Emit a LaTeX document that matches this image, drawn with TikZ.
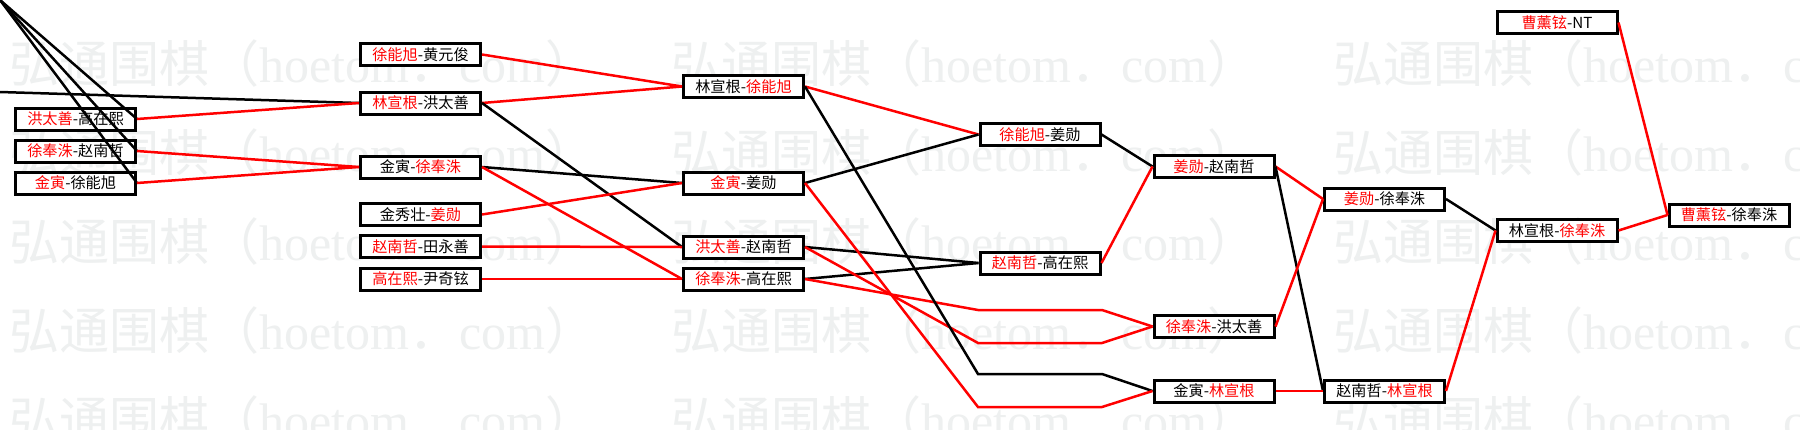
\documentclass[tikz,border=0pt]{standalone}
\usepackage{fontspec}
\newfontfamily\cjk{Noto Sans CJK SC}
\newfontfamily\lser{Liberation Serif}
\definecolor{wm}{RGB}{238,240,240}
\definecolor{rd}{RGB}{255,0,0}
\newcommand\rn[1]{\textcolor{rd}{#1}}
\newcommand\wmtext{弘通围棋（{\lser hoetom}．{\lser com}）}
\begin{document}
\begin{tikzpicture}[x=0.5pt,y=-0.5pt,
  box/.style={draw=black,line width=1.5pt,fill=white,minimum width=60pt,minimum height=11pt,inner sep=0pt,font=\cjk\fontsize{7.6}{8}\selectfont},
  wmark/.style={anchor=west,text=wm,inner sep=0pt,font=\cjk\fontsize{25}{26}\selectfont},
  rl/.style={draw=rd,line width=1.25pt},
  bl/.style={draw=black,line width=1.25pt}]
\fill[white] (0,0) rectangle (1800,429);
\useasboundingbox (0,0) rectangle (1800,429);
\clip (0,0) rectangle (1800,429);
% watermark
\foreach \yy in {63,152,241,330,419}{
  \foreach \xx in {9,671,1333}{
    \node[wmark] (w\xx-\yy) at (\xx,\yy) {\wmtext};
  }
}
% column 1
\node[box] (a1) at (75.5,119) {\rn{洪太善}-高在熙};
\node[box] (a2) at (75.5,151) {\rn{徐奉洙}-赵南哲};
\node[box] (a3) at (75.5,183) {\rn{金寅}-徐能旭};
% column 2
\node[box] (b1) at (420.5,54.5) {\rn{徐能旭}-黄元俊};
\node[box] (b2) at (420.5,103) {\rn{林宣根}-洪太善};
\node[box] (b3) at (420.5,167) {金寅-\rn{徐奉洙}};
\node[box] (b4) at (420.5,214.5) {金秀壮-\rn{姜勋}};
\node[box] (b5) at (420.5,246.5) {\rn{赵南哲}-田永善};
\node[box] (b6) at (420.5,279) {\rn{高在熙}-尹奇铉};
% column 3
\node[box] (c1) at (743.5,86.5) {林宣根-\rn{徐能旭}};
\node[box] (c2) at (743.5,183) {\rn{金寅}-姜勋};
\node[box] (c3) at (743.5,247) {\rn{洪太善}-赵南哲};
\node[box] (c4) at (743.5,279) {\rn{徐奉洙}-高在熙};
% column 4
\node[box] (d1) at (1040,134.5) {\rn{徐能旭}-姜勋};
\node[box] (d2) at (1040,263) {\rn{赵南哲}-高在熙};
\coordinate (p1l) at (978,310); \coordinate (p1r) at (1102,310);
\coordinate (p2l) at (978,343); \coordinate (p2r) at (1102,343);
\coordinate (p3l) at (978,374); \coordinate (p3r) at (1102,374);
\coordinate (p4l) at (978,407); \coordinate (p4r) at (1102,407);
% column 5
\node[box] (e1) at (1214,166.5) {\rn{姜勋}-赵南哲};
\node[box] (e2) at (1214,326.5) {\rn{徐奉洙}-洪太善};
\node[box] (e3) at (1214,391) {金寅-\rn{林宣根}};
% column 6
\node[box] (f1) at (1384.5,199) {\rn{姜勋}-徐奉洙};
\node[box] (f2) at (1384.5,391) {赵南哲-\rn{林宣根}};
% column 7
\node[box] (g1) at (1557,22.5) {\rn{曹薰铉}-NT};
\node[box] (g2) at (1557,230.5) {林宣根-\rn{徐奉洙}};
% column 8
\node[box] (h1) at (1729,215) {\rn{曹薰铉}-徐奉洙};
% free ends
\coordinate (o) at (0,0);
\coordinate (l0) at (0,92);
% connectors
\draw[bl] (o) -- (a1.east);
\draw[bl] (o) -- (a2.east);
\draw[bl] (o) -- (a3.east);
\draw[bl] (l0) -- (b2.west);
\draw[rl] (a1.east) -- (b2.west);
\draw[rl] (a2.east) -- (b3.west);
\draw[rl] (a3.east) -- (b3.west);
\draw[rl] (b1.east) -- (c1.west);
\draw[rl] (b2.east) -- (c1.west);
\draw[bl] (b2.east) -- (c3.west);
\draw[bl] (b3.east) -- (c2.west);
\draw[rl] (b3.east) -- (c4.west);
\draw[rl] (b4.east) -- (c2.west);
\draw[rl] (b5.east) -- (c3.west);
\draw[rl] (b6.east) -- (c4.west);
\draw[rl] (c1.east) -- (d1.west);
\draw[bl] (c2.east) -- (d1.west);
\draw[bl] (c3.east) -- (d2.west);
\draw[bl] (c4.east) -- (d2.west);
\draw[rl] (c4.east) -- (p1l) -- (p1r) -- (e2.west);
\draw[rl] (c3.east) -- (p2l) -- (p2r) -- (e2.west);
\draw[bl] (c1.east) -- (p3l) -- (p3r) -- (e3.west);
\draw[rl] (c2.east) -- (p4l) -- (p4r) -- (e3.west);
\draw[bl] (d1.east) -- (e1.west);
\draw[rl] (d2.east) -- (e1.west);
\draw[rl] (e1.east) -- (f1.west);
\draw[bl] (e1.east) -- (f2.west);
\draw[rl] (e2.east) -- (f1.west);
\draw[rl] (e3.east) -- (f2.west);
\draw[bl] (f1.east) -- (g2.west);
\draw[rl] (f2.east) -- (g2.west);
\draw[rl] (g1.east) -- (h1.west);
\draw[rl] (g2.east) -- (h1.west);
\end{tikzpicture}
\end{document}
